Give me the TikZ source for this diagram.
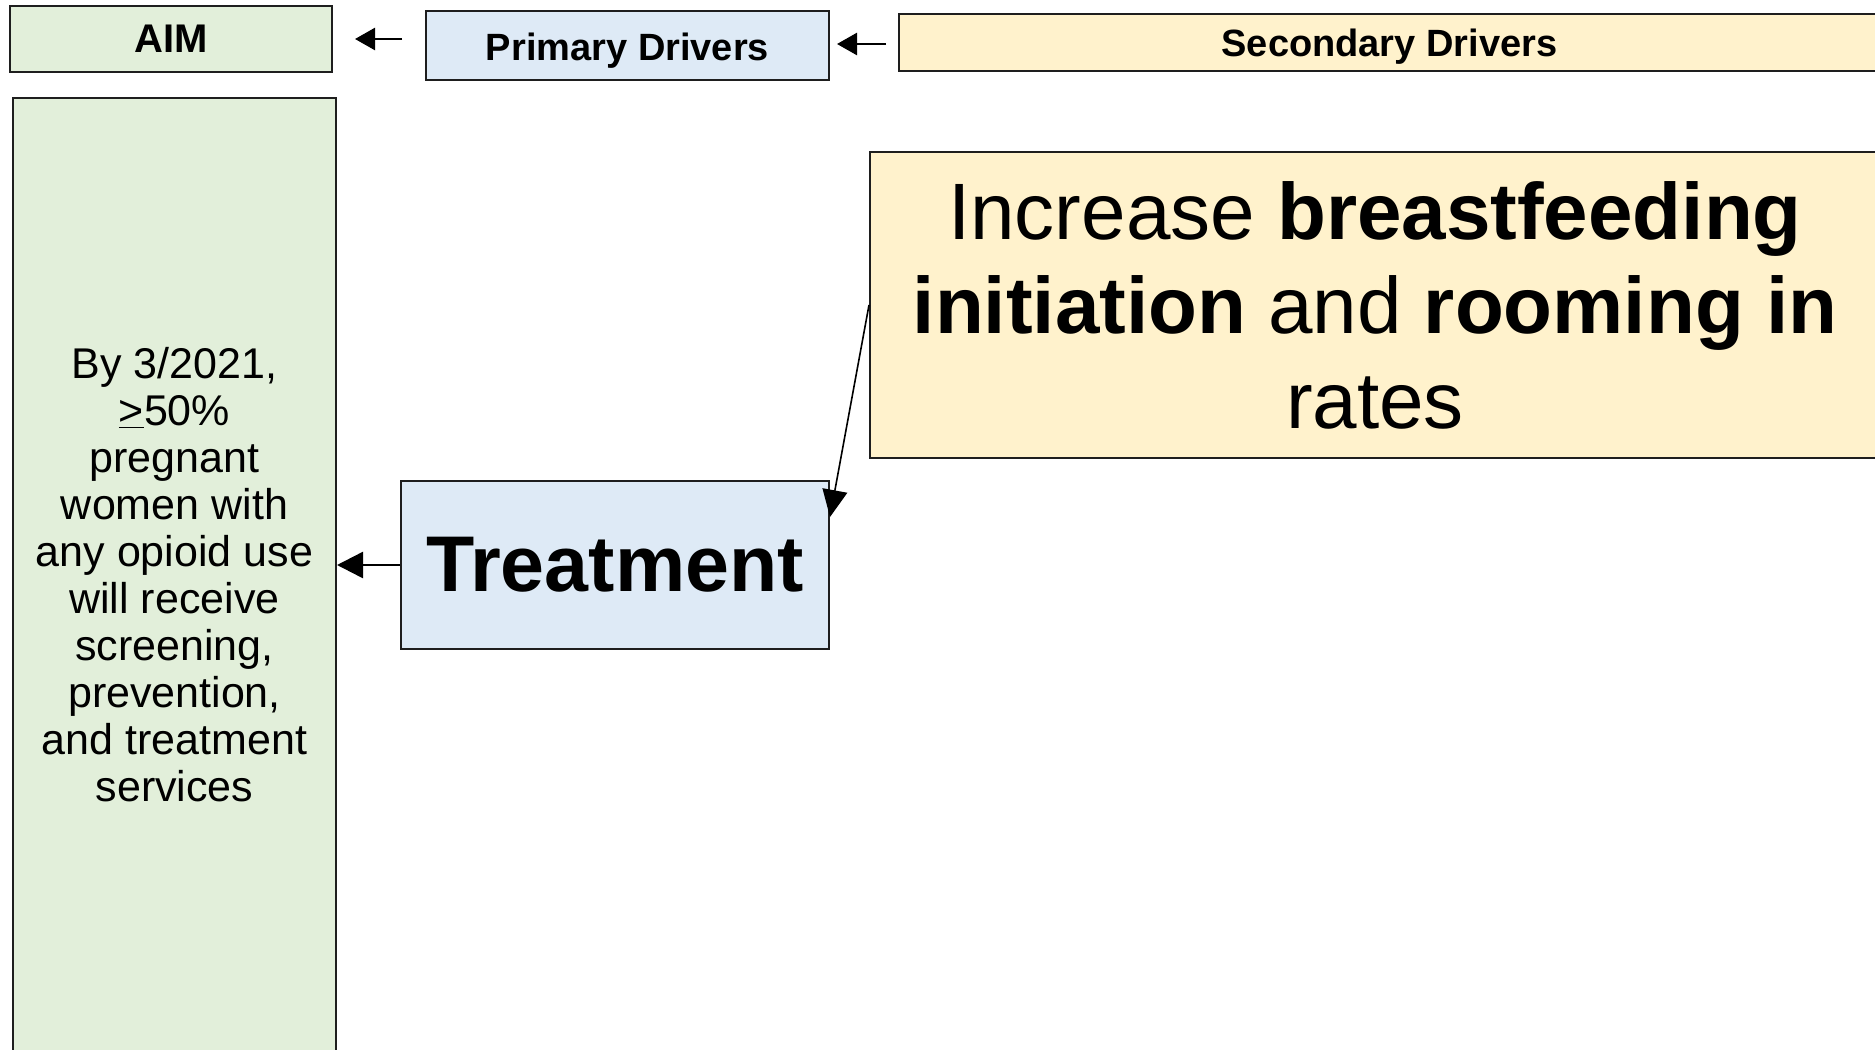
\documentclass[tikz,border=0pt]{standalone}
\usepackage{fontspec}
\setmainfont{Liberation Sans}
\usetikzlibrary{arrows.meta}
\definecolor{aimgreen}{HTML}{E2EFDA}
\definecolor{primblue}{HTML}{DEEAF6}
\definecolor{secyellow}{HTML}{FFF2CC}
\definecolor{edge}{HTML}{1E1E1E}
\tikzset{
  box/.style={draw=edge, line width=2pt, rectangle, inner sep=0pt, align=center},
  aimfill/.style={box, fill=aimgreen},
  primfill/.style={box, fill=primblue},
  secfill/.style={box, fill=secyellow},
  smallarrow/.style={line width=2.5pt, -{Triangle[length=20pt,width=22pt]}},
  bigarrow/.style={line width=2.5pt, -{Triangle[length=26pt,width=26pt]}},
  thinarrow/.style={line width=1.6pt, -{Triangle[length=27pt,width=25pt]}}
}
\begin{document}
\begin{tikzpicture}[x=1pt,y=-1pt]
\clip (0,0) rectangle (1875,1050);
\fill[white] (0,0) rectangle (1875,1050);
% header row
\node[aimfill, minimum width=322pt, minimum height=66pt,
  font={\fontsize{40}{46}\selectfont\bfseries}] (aimhead) at (171,39) {AIM};
\node[primfill, minimum width=403pt, minimum height=69pt,
  font={\fontsize{38}{44}\selectfont\bfseries}] (prim) at (627.5,45.5)
  {\raisebox{-5pt}[\height][\depth]{Primary Drivers}};
\node[secfill, minimum width=981pt, minimum height=57pt,
  font={\fontsize{38}{44}\selectfont\bfseries}] (sec) at (1389.5,42.5)
  {\raisebox{-4pt}[\height][\depth]{Secondary Drivers}};
\coordinate (a1s) at (402,39);
\coordinate (a1e) at (355,39);
\coordinate (a2s) at (886,44);
\coordinate (a2e) at (837,44);
\draw[smallarrow] (a1s) -- (a1e);
\draw[smallarrow] (a2s) -- (a2e);
% body
\node[aimfill, minimum width=323pt, minimum height=954pt,
  font={\fontsize{43}{47}\selectfont}] (aimbox) at (174.5,575)
  {By 3/2021,\\ \underline{>}50\%\\ pregnant\\ women with\\ any opioid use\\ will receive\\ screening,\\ prevention,\\ and treatment\\ services};
\node[primfill, minimum width=428pt, minimum height=168pt,
  font={\fontsize{79}{90}\selectfont\bfseries}] (treat) at (615,565) {Treatment};
\node[secfill, minimum width=1010pt, minimum height=306pt,
  font={\fontsize{80}{94.5}\selectfont}] (secbig) at (1375,305)
  {Increase \textbf{breastfeeding}\\ \textbf{initiation} and \textbf{rooming in}\\ rates};
\draw[bigarrow] (treat.west) -- (aimbox.east |- treat.west);
\coordinate (tipT) at (830,517);
\draw[thinarrow] (secbig.west) -- (tipT);
\end{tikzpicture}
\end{document}
